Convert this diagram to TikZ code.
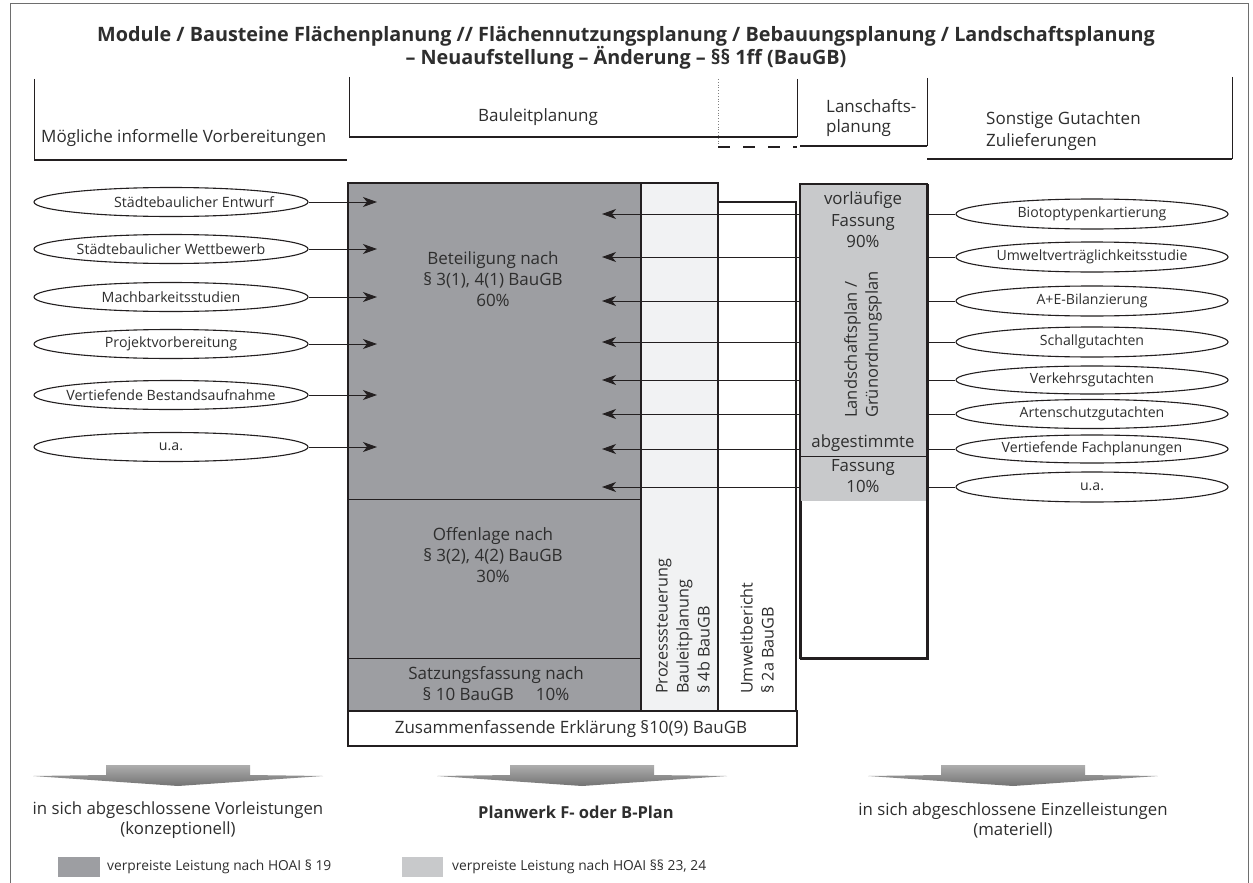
\documentclass[tikz,border=0pt]{standalone}
\usepackage{fontspec}
\setmainfont{Open Sans}
\usetikzlibrary{shapes.geometric,arrows.meta}
\definecolor{txt}{HTML}{2E2E2E}
\definecolor{linec}{HTML}{231F20}
\definecolor{darkbox}{HTML}{9D9EA2}
\definecolor{lightbox}{HTML}{F1F2F3}
\definecolor{midbox}{HTML}{C8C9CB}
\definecolor{framec}{HTML}{6E6E6E}
\newcommand{\ctrtext}[1]{\makebox[0pt]{#1}}
\newcommand{\fsz}[2]{\fontsize{#1}{#2}\selectfont}
\begin{document}
\begin{tikzpicture}[x=1pt,y=-1pt,
  box/.style={draw=linec, line width=2pt, anchor=north west, inner sep=0pt},
  ell/.style={ellipse, draw=linec, line width=1.1pt, fill=white, inner sep=0pt},
  lbl/.style={text=txt, inner sep=0pt},
  hdr/.style={lbl, font=\fsz{17}{22}},
  btx/.style={lbl, font=\fsz{17}{21}, align=center},
  rtx/.style={lbl, font=\fsz{16.2}{21}, align=left, rotate=90, anchor=west},
  conn/.style={draw=linec, line width=1pt, -{Stealth[length=14pt,width=10pt,inset=4pt]}},
  thinl/.style={draw=linec, line width=0.9pt},
  thickl/.style={draw=linec, line width=2pt}
]
\useasboundingbox (0,0) rectangle (1253,883);
\fill[white] (0,0) rectangle (1253,883);
% frame
\draw[framec, line width=1pt] (10,890) -- (10,4) -- (1248,4) -- (1248,890);
% title
\node[lbl, font=\bfseries\fsz{19.8}{23}, align=center] (title) at (626,48)
  {Module / Bausteine Flächenplanung // Flächennutzungsplanung / Bebauungsplanung / Landschaftsplanung\\– Neuaufstellung – Änderung – §§ 1ff (BauGB)};
% header brackets
\draw[thinl] (34,79) -- (34,160);
\draw[thickl] (34,160) -- (347,160);
\node[hdr, anchor=west] (hmog) at (41,138) {Mögliche informelle Vorbereitungen};
\draw[thinl] (349,77) -- (349,137);
\draw[thickl] (349,137) -- (797,137);
\draw[thinl] (797,79) -- (797,137);
\node[hdr] (hbau) at (538,117) {Bauleitplanung};
\draw[gray, line width=0.8pt, dotted] (718,79) -- (718,145);
\draw[thickl, dash pattern=on 12pt off 13pt] (718,147) -- (797,147);
\draw[thickl] (800,146) -- (927,146);
\draw[thinl] (927,78) -- (927,146);
\node[hdr, anchor=west, align=left, font=\fsz{17}{20}] (hlan) at (826,118) {Lanschafts-\\planung};
\draw[thickl] (927,159) -- (1232,159);
\draw[thinl] (1232,77) -- (1232,159);
\node[hdr, anchor=west, align=left] (hson) at (986,131) {Sonstige Gutachten\\Zulieferungen};
% main boxes
\node[box, fill=darkbox, minimum width=293, minimum height=528] (bet) at (347,182) {};
\draw[thinl] (347,499) -- (640,499);
\draw[thinl] (347,658) -- (640,658);
\node[box, fill=lightbox, minimum width=77, minimum height=528] (pro) at (640,182) {};
\node[box, fill=white, minimum width=78, minimum height=509] (umw) at (717,201) {};
\node[box, fill=white, minimum width=449, minimum height=35] (zus) at (347,710) {};
% box texts
\node[btx] (t60) at (493,279) {Beteiligung nach\\§ 3(1), 4(1) BauGB\\60\%};
\node[btx] (t30) at (493,555) {Offenlage nach\\§ 3(2), 4(2) BauGB\\30\%};
\node[btx] (t10) at (496,684) {Satzungsfassung nach\\§ 10 BauGB\hspace{22pt}10\%};
\node[rtx] (tpro) at (683,694) {Prozesssteuerung\\Bauleitplanung\\§ 4b BauGB};
\node[rtx] (tumw) at (757,694) {Umweltbericht\\§ 2a BauGB};
\node[lbl, font=\fsz{17}{22}] (tzus) at (571,729) {Zusammenfassende Erklärung §10(9) BauGB};
% right ellipses
\foreach \n/\y/\h/\t in {r1/214/30/Biotoptypenkartierung, r2/257/30/Umweltverträglichkeitsstudie, r3/301/30/A+E-Bilanzierung, r4/342/30/Schallgutachten, r5/380/28/Verkehrsgutachten, r6/414/29/Artenschutzgutachten, r7/449/28/Vertiefende Fachplanungen, r8/487/30/u.a.}{
  \node[ell, minimum width=272, minimum height=\h] (\n) at (1092,\y) {\ctrtext{\fontsize{14.1}{16}\selectfont\color{txt}\t}};
  \coordinate (\n e) at (602,\y);
  \draw[conn] (\n.west) -- (\n e);
}
% Landschaftsplan box (over the lines)
\node[box, fill=white, minimum width=127, minimum height=474] (lan) at (800,184) {};
\fill[midbox] (801,185) rectangle (926,501);
\draw[thinl] (801,456) -- (926,456);
\draw[draw=linec, line width=2pt] (800,184) rectangle (927,658);
\node[btx, font=\fsz{16.8}{21.5}] (tvor) at (863,220) {vorläufige\\Fassung\\90\%};
\node[rtx, font=\fsz{16.5}{21}] (tlan) at (863,418) {Landschaftsplan /\\Grünordnungsplan};
\node[lbl, font=\fsz{16.8}{21.5}] (tabg) at (863,443) {abgestimmte};
\node[btx, font=\fsz{16.8}{21.5}] (tfas) at (863,476) {Fassung\\10\%};
% left ellipses
\foreach \n/\y/\t in {l1/202/{\hspace*{46pt}Städtebaulicher Entwurf}, l2/249/Städtebaulicher Wettbewerb, l3/297/Machbarkeitsstudien, l4/344/Projektvorbereitung, l5/395/Vertiefende Bestandsaufnahme, l6/447/u.a.}{
  \node[ell, minimum width=274, minimum height=29] (\n) at (171,\y) {\ctrtext{\fontsize{14.2}{16}\selectfont\color{txt}\t}};
  \coordinate (\n e) at (377,\y);
  \draw[conn] (\n.east) -- (\n e);
}
% bottom arrows
\foreach \c in {178,582,1013}{
  \shade[top color=black!32, bottom color=black!55]
    (\c-145,776) -- (\c-72,775) -- (\c-72,765) -- (\c+72,765) -- (\c+72,775) -- (\c+145,776) -- (\c,786) -- cycle;
}
\node[lbl, font=\fsz{16.8}{20}, align=center] (b1) at (178,820) {in sich abgeschlossene Vorleistungen\\(konzeptionell)};
\node[lbl, font=\bfseries\fsz{16.5}{20}] (b2) at (576,812) {Planwerk F- oder B-Plan};
\node[lbl, font=\fsz{16.8}{20}, align=center] (b3) at (1013,820) {in sich abgeschlossene Einzelleistungen\\(materiell)};
% legend
\fill[darkbox] (58,857) rectangle (100,877);
\node[lbl, font=\fsz{13.8}{15}, anchor=west] (leg1) at (107,867) {verpreiste Leistung nach HOAI § 19};
\fill[midbox] (402,857) rectangle (443,877);
\node[lbl, font=\fsz{13.8}{15}, anchor=west] (leg2) at (452,867) {verpreiste Leistung nach HOAI §§ 23, 24};
\end{tikzpicture}
\end{document}
